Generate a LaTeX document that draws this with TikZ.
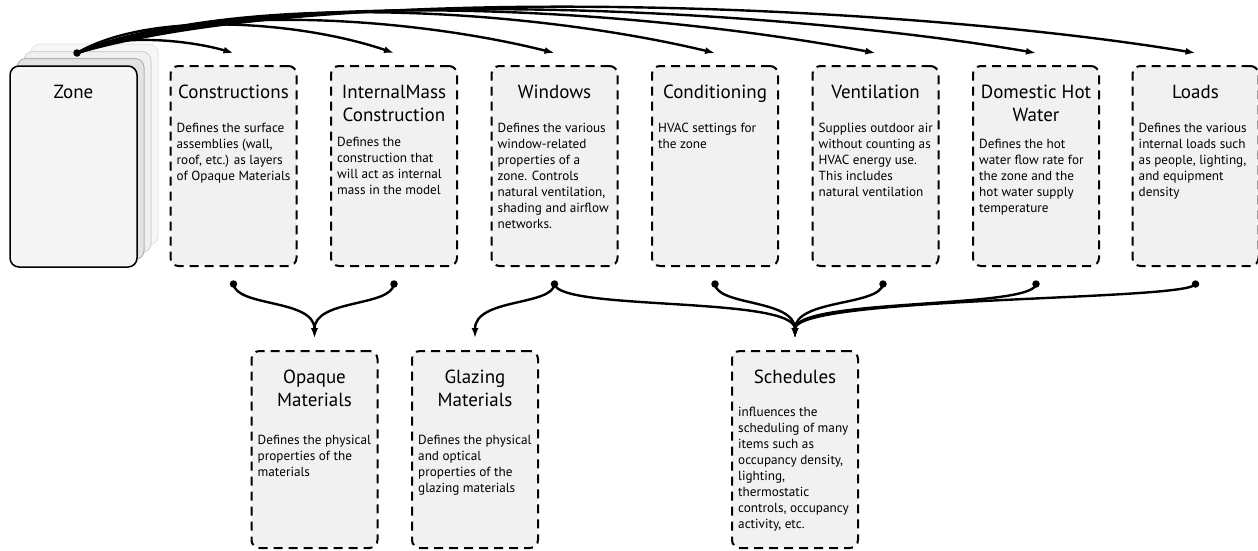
\documentclass[tikz,border=0pt]{standalone}
\usepackage{fontspec}
\setmainfont{PT Sans}
\usetikzlibrary{arrows.meta}
\definecolor{boxfill}{HTML}{F1F1F1}
\definecolor{zonefill}{HTML}{F5F5F5}
\begin{document}
\begin{tikzpicture}[x=1pt,y=-1pt,
  dbox/.style={draw, dash pattern=on 9pt off 6pt, line width=2pt, rounded corners=8pt,
    fill=boxfill, minimum width=126pt, minimum height=200pt, inner sep=0pt},
  zbox/.style={draw, line width=1.5pt, rounded corners=9pt, fill=zonefill,
    minimum width=127pt, minimum height=201pt, inner sep=0pt},
  card/.style={zbox, line width=1pt},
  ttl/.style={font=\fontsize{19}{22.5}\selectfont, align=center, anchor=north, inner sep=0pt},
  body/.style={font=\fontsize{13.2}{16}\selectfont, align=left, anchor=north west, inner sep=0pt},
  dotn/.style={circle, fill=black, inner sep=0pt, minimum size=7.5pt},
  link/.style={line width=2.4pt, -{Latex[length=10pt,width=7pt]}},
]
\useasboundingbox (0,0) rectangle (1258,550);

% stack of zone cards
\node[card, draw=gray!20, fill=gray!6] (zb3) at (94.5,144.5) {};
\node[card, draw=gray!35, fill=gray!12] (zb2) at (87.5,152) {};
\node[card, draw=gray!60, fill=gray!22] (zb1) at (80.5,159) {};
\node[zbox] (zone) at (73.5,166.5) {};
\node[ttl, yshift=-20pt] (zoneT) at (zone.north) {Zone};

% upper row of components
\node[dbox] (cons)  at (233.5,166) {};
\node[dbox] (imass) at (394,166) {};
\node[dbox] (win)   at (554.5,166) {};
\node[dbox] (cond)  at (715,166) {};
\node[dbox] (vent)  at (875.5,166) {};
\node[dbox] (dhw)   at (1036,166) {};
\node[dbox] (loads) at (1195.5,166) {};

\node[ttl, yshift=-20pt] (consT) at (cons.north) {Constructions};
\node[body, xshift=7pt, yshift=-58pt] (consB) at (cons.north west)
  {Defines the surface\\assemblies (wall,\\roof, etc.) as layers\\of Opaque Materials};

\node[ttl, yshift=-20pt] (imassT) at (imass.north) {InternalMass\\Construction};
\node[body, xshift=7pt, yshift=-72pt] (imassB) at (imass.north west)
  {Defines the\\construction that\\will act as internal\\mass in the model};

\node[ttl, yshift=-20pt] (winT) at (win.north) {Windows};
\node[body, xshift=7pt, yshift=-58pt] (winB) at (win.north west)
  {Defines the various\\window-related\\properties of a\\zone. Controls\\natural ventilation,\\shading and airflow\\networks.};

\node[ttl, yshift=-20pt] (condT) at (cond.north) {Conditioning};
\node[body, xshift=7pt, yshift=-58pt] (condB) at (cond.north west)
  {HVAC settings for\\the zone};

\node[ttl, yshift=-20pt] (ventT) at (vent.north) {Ventilation};
\node[body, xshift=7pt, yshift=-58pt] (ventB) at (vent.north west)
  {Supplies outdoor air\\without counting as\\HVAC energy use.\\This includes\\natural ventilation};

\node[ttl, yshift=-20pt] (dhwT) at (dhw.north) {Domestic Hot\\Water};
\node[body, xshift=7pt, yshift=-74pt] (dhwB) at (dhw.north west)
  {Defines the hot\\water flow rate for\\the zone and the\\hot water supply\\temperature};

\node[ttl, yshift=-20pt] (loadsT) at (loads.north) {Loads};
\node[body, xshift=7pt, yshift=-58pt] (loadsB) at (loads.north west)
  {Defines the various\\internal loads such\\as people, lighting,\\and equipment\\density};

% lower row of components
\node[dbox, minimum height=197pt] (opq) at (314.5,449.5) {};
\node[dbox, minimum height=197pt] (glz) at (475,449.5) {};
\node[dbox, minimum height=197pt] (sch) at (795,449.5) {};

\node[ttl, yshift=-20pt] (opqT) at (opq.north) {Opaque\\Materials};
\node[body, xshift=7pt, yshift=-85pt] (opqB) at (opq.north west)
  {Defines the physical\\properties of the\\materials};

\node[ttl, yshift=-20pt] (glzT) at (glz.north) {Glazing\\Materials};
\node[body, xshift=7pt, yshift=-85pt] (glzB) at (glz.north west)
  {Defines the physical\\and optical\\properties of the\\glazing materials};

\node[ttl, yshift=-20pt] (schT) at (sch.north) {Schedules};
\node[body, xshift=7pt, yshift=-57pt] (schB) at (sch.north west)
  {influences the\\scheduling of many\\items such as\\occupancy density,\\lighting,\\thermostatic\\controls, occupancy\\activity, etc.};

% connector start points
\node[dotn] (zdot) at (77,53) {};
\node[dotn] (consD)  at ([yshift=-17pt]cons.south) {};
\node[dotn] (imassD) at ([yshift=-17pt]imass.south) {};
\node[dotn] (winD)   at ([yshift=-17pt]win.south) {};
\node[dotn] (condD)  at ([yshift=-17pt]cond.south) {};
\node[dotn] (ventD)  at ([xshift=7.5pt,yshift=-17pt]vent.south) {};
\node[dotn] (dhwD)   at ([yshift=-17pt]dhw.south) {};
\node[dotn] (loadsD) at ([yshift=-17pt]loads.south) {};

% zone to its components
\draw[link] (zdot.center) .. controls +(33,-20) and +(-48.5,-14) .. ([yshift=12pt]cons.north);
\draw[link] (zdot.center) .. controls +(73,-43) and +(-94,-32) .. ([yshift=12pt]imass.north);
\draw[link] (zdot.center) .. controls +(123,-53) and +(-134.5,-34) .. ([yshift=12pt]win.north);
\draw[link] (zdot.center) .. controls +(173,-65) and +(-175,-42) .. ([yshift=12pt]cond.north);
\draw[link] (zdot.center) .. controls +(203,-68) and +(-235.5,-44) .. ([yshift=12pt]vent.north);
\draw[link] (zdot.center) .. controls +(223,-71) and +(-256,-44) .. ([yshift=12pt]dhw.north);
\draw[link] (zdot.center) .. controls +(253,-73) and +(-295.5,-49) .. ([yshift=12pt]loads.north);

% components to materials and schedules
\draw[link] (consD.center) .. controls +(3,23) and +(0,-39) .. ([yshift=12pt]opq.north);
\draw[link] (imassD.center) .. controls +(-3,23) and +(0,-39) .. ([yshift=12pt]opq.north);
\draw[link] (winD.center) .. controls +(-2,22) and +(0,-40) .. ([yshift=12pt]glz.north);
\draw[link] (winD.center) .. controls +(4,27) and +(0,-42) .. ([yshift=12pt]sch.north);
\draw[link] (condD.center) .. controls +(2,22) and +(0,-39) .. ([yshift=12pt]sch.north);
\draw[link] (ventD.center) .. controls +(-3,22) and +(0,-39) .. ([yshift=12pt]sch.north);
\draw[link] (dhwD.center) .. controls +(-2,25) and +(0,-40) .. ([yshift=12pt]sch.north);
\draw[link] (loadsD.center) .. controls +(-5,17) and +(0,-42) .. ([yshift=12pt]sch.north);
\end{tikzpicture}
\end{document}
